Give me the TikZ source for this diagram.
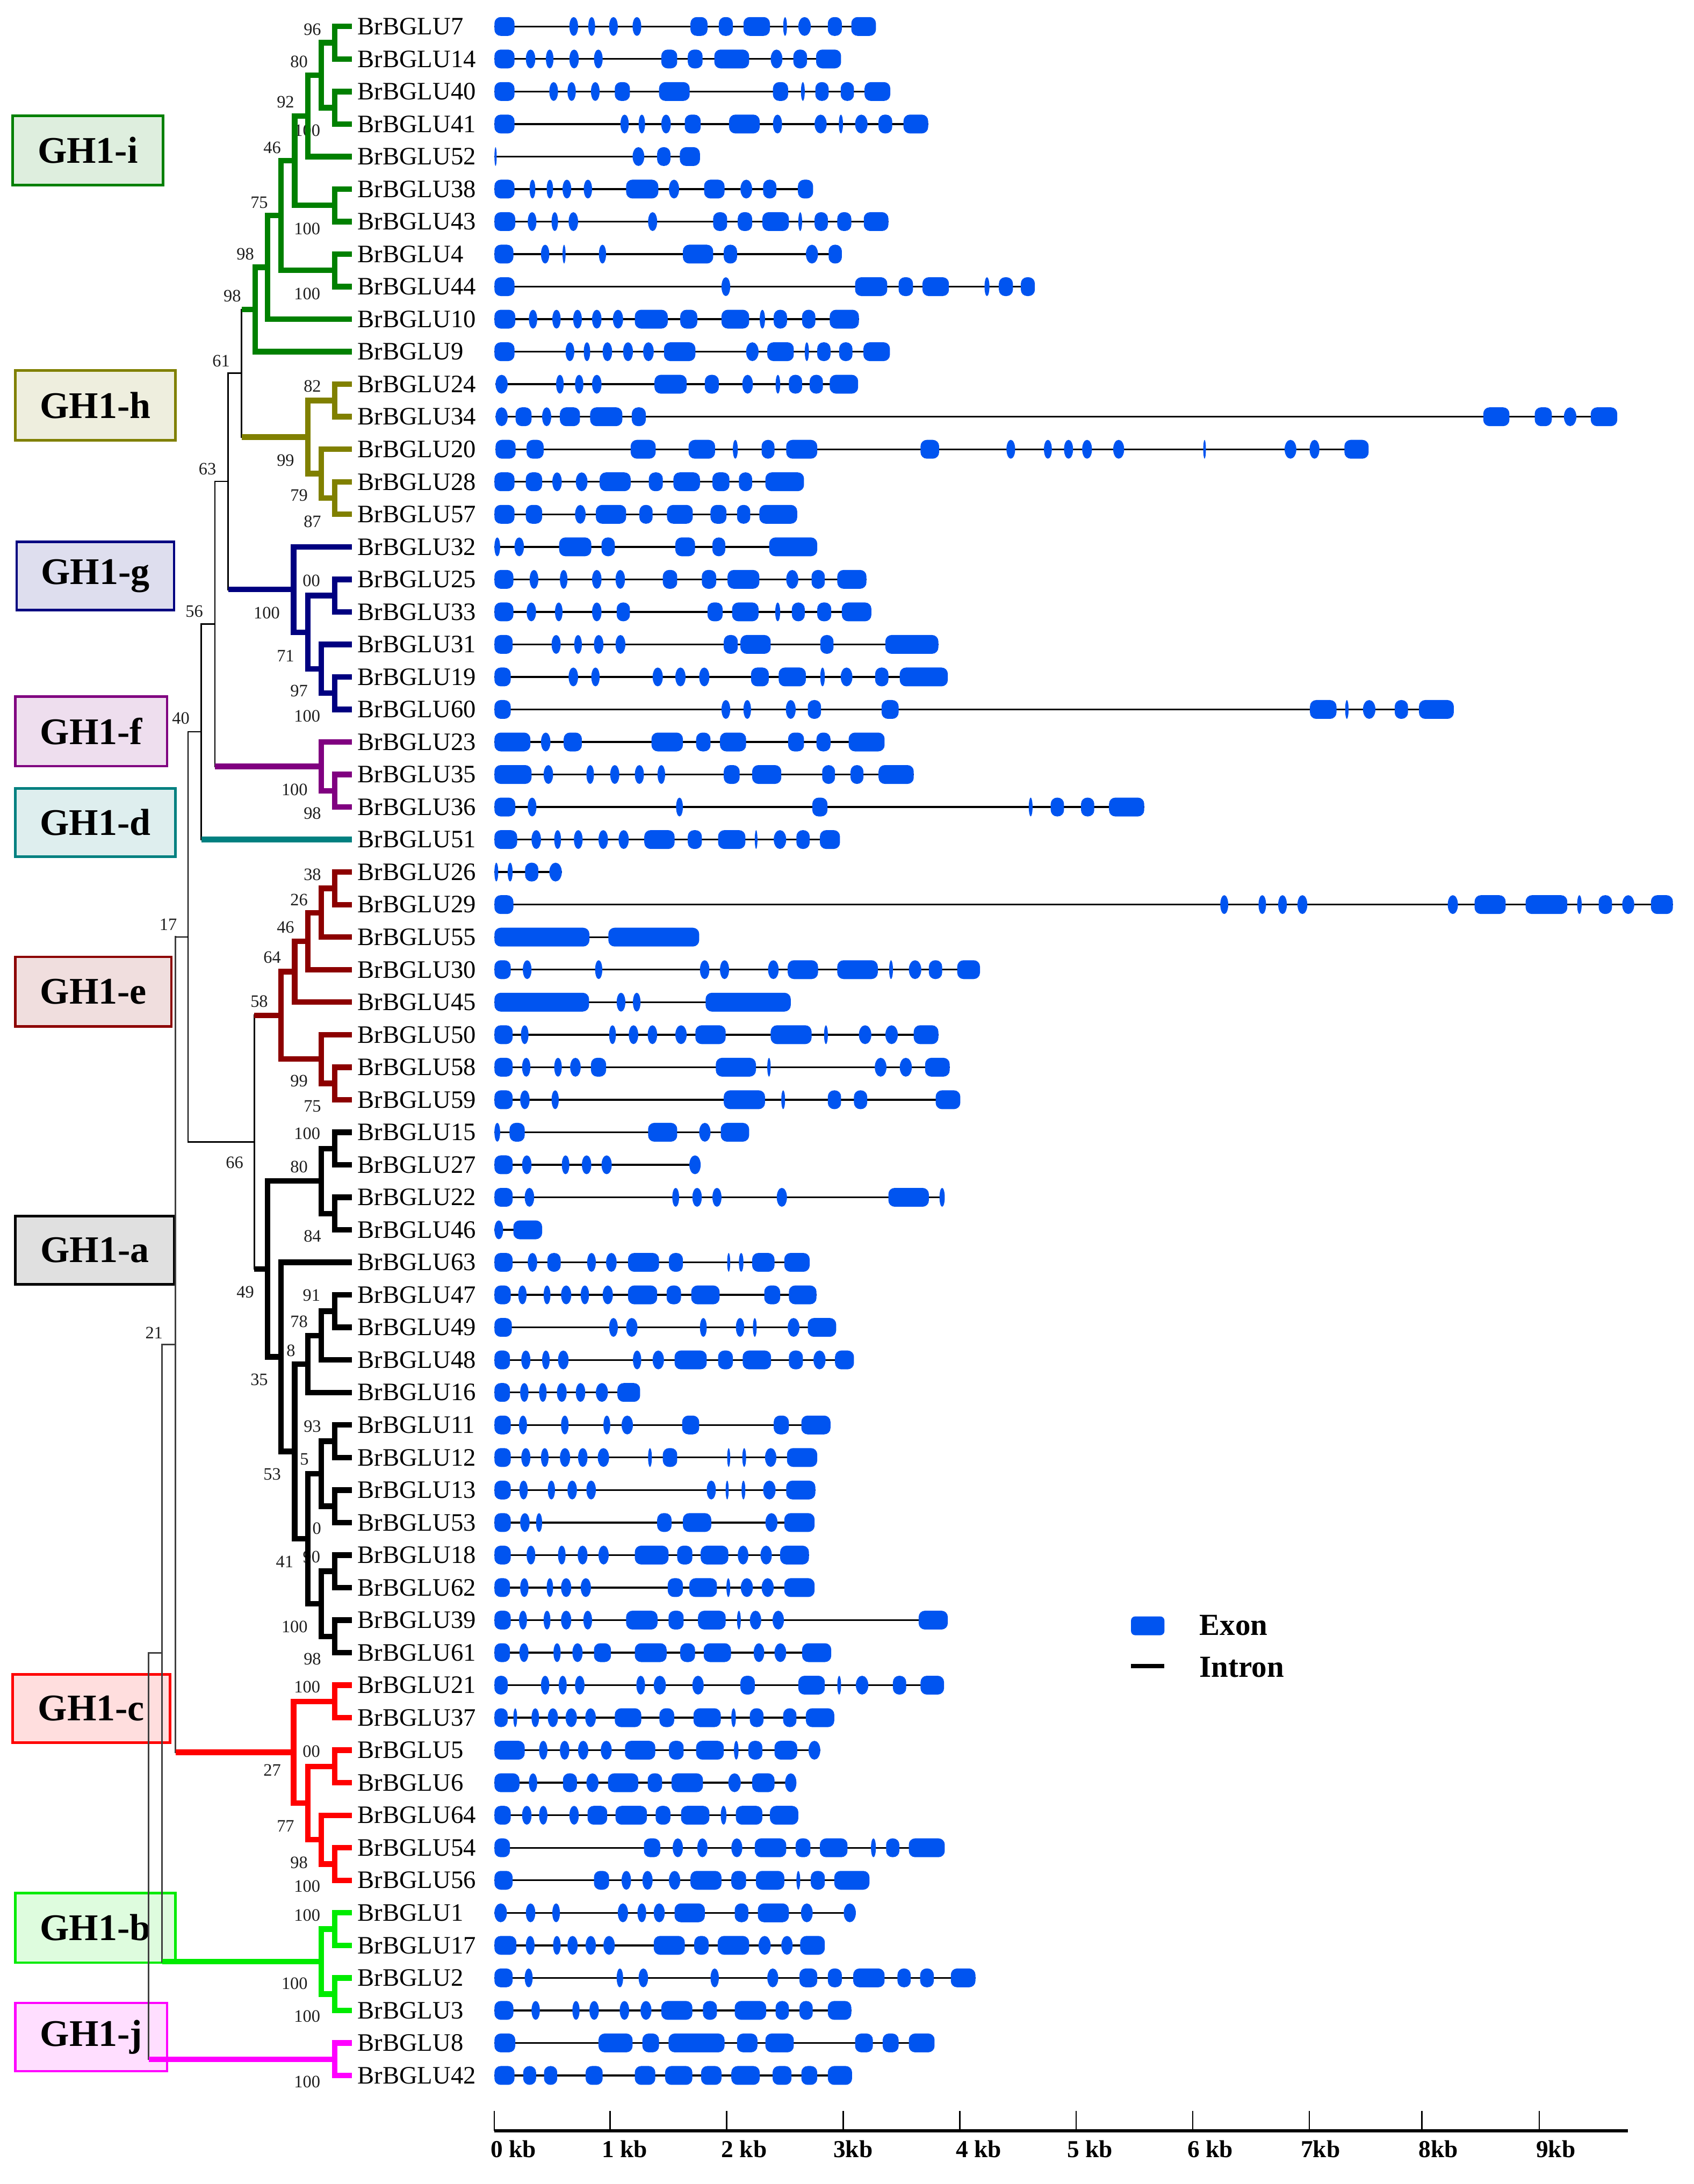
\documentclass[tikz,border=0pt]{standalone}
\usepackage{fontspec}
\setmainfont{Liberation Serif}
\definecolor{cI}{RGB}{0,128,0}
\definecolor{cH}{RGB}{128,128,0}
\definecolor{cG}{RGB}{0,0,128}
\definecolor{cF}{RGB}{128,0,128}
\definecolor{cD}{RGB}{0,128,128}
\definecolor{cE}{RGB}{140,0,0}
\definecolor{cA}{RGB}{0,0,0}
\definecolor{cC}{RGB}{255,0,0}
\definecolor{cB}{RGB}{0,235,0}
\definecolor{cJ}{RGB}{255,0,255}
\definecolor{exblue}{RGB}{0,84,240}
\definecolor{bstxt}{RGB}{30,30,30}
\newcommand\ry[1]{19+23.35*#1}
\tikzset{
 bI/.style={draw=cI,line width=4pt},
 bH/.style={draw=cH,line width=4pt},
 bG/.style={draw=cG,line width=4pt},
 bF/.style={draw=cF,line width=4pt},
 bD/.style={draw=cD,line width=4pt},
 bE/.style={draw=cE,line width=4pt},
 bA/.style={draw=cA,line width=4pt},
 bC/.style={draw=cC,line width=4pt},
 bB/.style={draw=cB,line width=4pt},
 bJ/.style={draw=cJ,line width=4pt},
 bk/.style={draw=black,line width=1.1pt},
 bq/.style={draw=black!75,line width=1.3pt},
 gl/.style={anchor=west,inner sep=0pt,font=\fontsize{18}{20}\selectfont},
 bs/.style={inner sep=0pt,text=bstxt,font=\fontsize{12.5}{13}\selectfont},
 ghbox/.style={draw=#1,fill=#1!13,line width=1.8pt,inner sep=0pt,minimum height=50pt,
   font=\fontsize{27}{30}\selectfont\bfseries},
 intron/.style={draw=black,line width=1.3pt},
 exonc/.style={fill=exblue},
}
\newcommand\nd[6]{%
 \draw[#1,line cap=rect] (#2 |- #4) -- (#2 |- #6);
 \draw[#3] (#2 |- #4) -- (#4);
 \draw[#5] (#2 |- #6) -- (#6);
}
\newcommand\exon[3]{%
 \pgfmathsetmacro\xa{349+0.2717*#2}%
 \pgfmathsetmacro\xb{349+0.2717*#3}%
 \pgfmathsetmacro\yc{19+23.35*#1}%
 \pgfmathsetmacro\ew{\xb-\xa}%
 \ifdim\ew pt<9pt
   \pgfmathsetmacro\xm{(\xa+\xb)/2}%
   \pgfmathsetmacro\rx{\ew/2}%
   \fill[exonc] (\xm,\yc) ellipse [x radius=\rx pt, y radius=6.75pt];
 \else
   \fill[exonc,rounded corners=4.5pt] (\xa,\yc-6.75) rectangle (\xb,\yc+6.75);
 \fi
}
\newcommand\gene[2]{%
 \def\gfirst{}%
 \foreach \a/\b in {#2}{\ifx\gfirst\empty\xdef\gfirst{\a}\fi\xdef\glast{\b}}%
 \draw[intron] ({349+0.2717*\gfirst},{\ry{#1}}) -- ({349+0.2717*\glast},{\ry{#1}});
 \foreach \a/\b in {#2}{\exon{#1}{\a}{\b}}%
}
\begin{document}
\begin{tikzpicture}[x=1pt,y=-1pt]
\useasboundingbox[fill=white] (0,0) rectangle (1216,1568);

% ---------- clade boxes ----------
\node[ghbox=cI,minimum width=108pt] (ghi) at (63,108) {GH1-i};
\node[ghbox=cH,minimum width=115pt] (ghh) at (68.5,291) {GH1-h};
\node[ghbox=cG,minimum width=113pt,minimum height=49pt] (ghg) at (68.5,413.5) {GH1-g};
\node[ghbox=cF,minimum width=109pt] (ghf) at (65.5,525) {GH1-f};
\node[ghbox=cD,minimum width=115pt,minimum height=49pt] (ghd) at (68.5,590.5) {GH1-d};
\node[ghbox=cE,minimum width=112pt] (ghe) at (67,712) {GH1-e};
\node[draw=black,fill=black!12,line width=1.8pt,inner sep=0pt,minimum height=49pt,minimum width=114pt,
  font=\fontsize{27}{30}\selectfont\bfseries] (gha) at (68,897.5) {GH1-a};
\node[ghbox=cC,minimum width=113pt,minimum height=49pt] (ghc) at (65.5,1226.5) {GH1-c};
\node[ghbox=cB,minimum width=115pt] (ghb) at (68.5,1384) {GH1-b};
\node[ghbox=cJ,minimum width=109pt,minimum height=49pt] (ghj) at (65.5,1462.5) {GH1-j};

% ---------- tips and gene names ----------
\foreach \n [count=\i from 0] in {7,14,40,41,52,38,43,4,44,10,9,24,34,20,28,57,32,25,33,31,19,60,23,35,36,51,26,29,55,30,45,50,58,59,15,27,22,46,63,47,49,48,16,11,12,13,53,18,62,39,61,21,37,5,6,64,54,56,1,17,2,3,8,42}{
 \coordinate (t\n) at (252.6,{\ry{\i}});
 \node[gl] (l\n) at (256.5,{\ry{\i}}) {BrBGLU\n};
}

% ---------- bootstrap values ----------
\foreach \x/\r/\t [count=\i] in {224.3/0.09/96, 214.7/1.09/80, 205/2.32/92, 220.5/3.2/100, 195.4/3.72/46, 186.1/5.41/75, 220.5/6.22/100, 176.1/7.0/98, 220.5/8.22/100, 166.8/8.29/98, 158.8/10.28/61, 224.3/11.06/82, 205/13.35/99, 214.7/14.42/79, 224.3/15.23/87, 148.9/13.61/63, 223.6/17.04/00, 191.5/18.03/100, 139.5/17.99/56, 205/19.36/71, 214.7/20.43/97, 220.5/21.2/100, 129.8/21.27/40, 211.5/23.46/100, 224.3/24.19/98, 224.3/26.07/38, 214.7/26.85/26, 205/27.69/46, 195.4/28.62/64, 186.1/29.98/58, 120.8/27.62/17, 214.7/32.42/99, 224.3/33.2/75, 220.5/34.04/100, 214.7/35.07/80, 224.3/37.2/84, 168.4/34.93/66, 176.1/38.91/49, 223.7/39.02/91, 214.7/39.83/78, 208.9/40.72/8, 186.1/41.6/35, 110.6/40.16/21, 224.3/43.05/93, 218.5/44.06/5, 195.4/44.52/53, 227.5/46.18/0, 223.7/47.05/90, 204.4/47.2/41, 211.5/49.2/100, 224.3/50.2/98, 220.5/51.05/100, 223.6/53.04/00, 195.4/53.62/27, 205/55.34/77, 214.7/56.46/98, 220.5/57.19/100, 220.5/58.08/100, 211.5/60.17/100, 220.5/61.18/100, 220.5/63.19/100}{
 \node[bs] (bs\i) at (\x,{\ry{\r}}) {\t};
}

% ---------- internal nodes ----------
\coordinate (i1) at (240.4,{\ry{0.5}});
\coordinate (i2) at (240.4,{\ry{2.5}});
\coordinate (i3) at (230.7,{\ry{1.5}});
\coordinate (i4) at (221,{\ry{2.75}});
\coordinate (i5) at (240.4,{\ry{5.5}});
\coordinate (i6) at (211.5,{\ry{4.125}});
\coordinate (i7) at (240.4,{\ry{7.5}});
\coordinate (i8) at (201.8,{\ry{5.8125}});
\coordinate (i9) at (192.2,{\ry{7.406}});
\coordinate (i10) at (183.2,{\ry{8.703}});
\coordinate (h1) at (240.4,{\ry{11.5}});
\coordinate (h2) at (240.4,{\ry{14.5}});
\coordinate (h3) at (230.7,{\ry{13.75}});
\coordinate (h4) at (221,{\ry{12.625}});
\coordinate (k61) at (173.5,{\ry{10.664}});
\coordinate (g1) at (240.4,{\ry{17.5}});
\coordinate (g2) at (240.4,{\ry{20.5}});
\coordinate (g3) at (230.7,{\ry{19.75}});
\coordinate (g4) at (221,{\ry{18.625}});
\coordinate (g5) at (210.8,{\ry{17.3125}});
\coordinate (k63) at (163.9,{\ry{13.988}});
\coordinate (f1) at (240.4,{\ry{23.5}});
\coordinate (f2) at (230.7,{\ry{22.75}});
\coordinate (k56) at (154.3,{\ry{18.369}});
\coordinate (k40) at (144.6,{\ry{21.685}});
\coordinate (e1) at (240.4,{\ry{26.5}});
\coordinate (e2) at (230.7,{\ry{27.25}});
\coordinate (e3) at (221,{\ry{28.125}});
\coordinate (e4) at (211.5,{\ry{29.0625}});
\coordinate (e5) at (240.4,{\ry{32.5}});
\coordinate (e6) at (230.7,{\ry{31.75}});
\coordinate (e7) at (201.8,{\ry{30.406}});
\coordinate (a1) at (240.4,{\ry{34.5}});
\coordinate (a2) at (240.4,{\ry{36.5}});
\coordinate (a3) at (230.7,{\ry{35.5}});
\coordinate (a4) at (240.4,{\ry{39.5}});
\coordinate (a5) at (230.7,{\ry{40.25}});
\coordinate (a6) at (221,{\ry{41.125}});
\coordinate (a7) at (240.4,{\ry{43.5}});
\coordinate (a8) at (240.4,{\ry{45.5}});
\coordinate (a9) at (230.7,{\ry{44.5}});
\coordinate (a10) at (240.4,{\ry{47.5}});
\coordinate (a11) at (240.4,{\ry{49.5}});
\coordinate (a12) at (230.7,{\ry{48.5}});
\coordinate (a13) at (221,{\ry{46.5}});
\coordinate (a14) at (211.5,{\ry{43.8125}});
\coordinate (a15) at (201.8,{\ry{40.906}});
\coordinate (a16) at (192.2,{\ry{38.203}});
\coordinate (k66) at (182.5,{\ry{34.305}});
\coordinate (k17) at (135,{\ry{27.995}});
\coordinate (c1) at (240.4,{\ry{51.5}});
\coordinate (c2) at (240.4,{\ry{53.5}});
\coordinate (c3) at (240.4,{\ry{56.5}});
\coordinate (c4) at (230.7,{\ry{55.75}});
\coordinate (c5) at (221,{\ry{54.625}});
\coordinate (c6) at (210.8,{\ry{53.0625}});
\coordinate (k21) at (126,{\ry{40.53}});
\coordinate (b1) at (240.4,{\ry{58.5}});
\coordinate (b2) at (240.4,{\ry{60.5}});
\coordinate (b3) at (230.7,{\ry{59.5}});
\coordinate (kx) at (116.3,{\ry{50.01}});
\coordinate (j1) at (240.4,{\ry{62.5}});
\coordinate (kr) at (106.7,{\ry{56.26}});

% ---------- backbone ----------
\nd{bq}{kr}{bq}{kx}{bJ}{j1}
\nd{bq}{kx}{bq}{k21}{bB}{b3}
\nd{bq}{k21}{bk}{k17}{bC}{c6}
\nd{bk}{k17}{bk}{k40}{bk}{k66}
\nd{bk}{k66}{bE}{e7}{bA}{a16}
\nd{bk}{k40}{bk}{k56}{bD}{t51}
\nd{bk}{k56}{bk}{k63}{bF}{f2}
\nd{bk}{k63}{bk}{k61}{bG}{g5}
\nd{bk}{k61}{bI}{i10}{bH}{h4}
% GH1-i
\nd{bI}{i10}{bI}{i9}{bI}{t9}
\nd{bI}{i9}{bI}{i8}{bI}{t10}
\nd{bI}{i8}{bI}{i6}{bI}{i7}
\nd{bI}{i7}{bI}{t4}{bI}{t44}
\nd{bI}{i6}{bI}{i4}{bI}{i5}
\nd{bI}{i5}{bI}{t38}{bI}{t43}
\nd{bI}{i4}{bI}{i3}{bI}{t52}
\nd{bI}{i3}{bI}{i1}{bI}{i2}
\nd{bI}{i1}{bI}{t7}{bI}{t14}
\nd{bI}{i2}{bI}{t40}{bI}{t41}
% GH1-h
\nd{bH}{h4}{bH}{h1}{bH}{h3}
\nd{bH}{h1}{bH}{t24}{bH}{t34}
\nd{bH}{h3}{bH}{t20}{bH}{h2}
\nd{bH}{h2}{bH}{t28}{bH}{t57}
% GH1-g
\nd{bG}{g5}{bG}{t32}{bG}{g4}
\nd{bG}{g4}{bG}{g1}{bG}{g3}
\nd{bG}{g1}{bG}{t25}{bG}{t33}
\nd{bG}{g3}{bG}{t31}{bG}{g2}
\nd{bG}{g2}{bG}{t19}{bG}{t60}
% GH1-f
\nd{bF}{f2}{bF}{t23}{bF}{f1}
\nd{bF}{f1}{bF}{t35}{bF}{t36}
% GH1-e
\nd{bE}{e7}{bE}{e4}{bE}{e6}
\nd{bE}{e4}{bE}{e3}{bE}{t45}
\nd{bE}{e3}{bE}{e2}{bE}{t30}
\nd{bE}{e2}{bE}{e1}{bE}{t55}
\nd{bE}{e1}{bE}{t26}{bE}{t29}
\nd{bE}{e6}{bE}{t50}{bE}{e5}
\nd{bE}{e5}{bE}{t58}{bE}{t59}
% GH1-a
\nd{bA}{a16}{bA}{a3}{bA}{a15}
\nd{bA}{a3}{bA}{a1}{bA}{a2}
\nd{bA}{a1}{bA}{t15}{bA}{t27}
\nd{bA}{a2}{bA}{t22}{bA}{t46}
\nd{bA}{a15}{bA}{t63}{bA}{a14}
\nd{bA}{a14}{bA}{a6}{bA}{a13}
\nd{bA}{a6}{bA}{a5}{bA}{t16}
\nd{bA}{a5}{bA}{a4}{bA}{t48}
\nd{bA}{a4}{bA}{t47}{bA}{t49}
\nd{bA}{a13}{bA}{a9}{bA}{a12}
\nd{bA}{a9}{bA}{a7}{bA}{a8}
\nd{bA}{a7}{bA}{t11}{bA}{t12}
\nd{bA}{a8}{bA}{t13}{bA}{t53}
\nd{bA}{a12}{bA}{a10}{bA}{a11}
\nd{bA}{a10}{bA}{t18}{bA}{t62}
\nd{bA}{a11}{bA}{t39}{bA}{t61}
% GH1-c
\nd{bC}{c6}{bC}{c1}{bC}{c5}
\nd{bC}{c1}{bC}{t21}{bC}{t37}
\nd{bC}{c5}{bC}{c2}{bC}{c4}
\nd{bC}{c2}{bC}{t5}{bC}{t6}
\nd{bC}{c4}{bC}{t64}{bC}{c3}
\nd{bC}{c3}{bC}{t54}{bC}{t56}
% GH1-b
\nd{bB}{b3}{bB}{b1}{bB}{b2}
\nd{bB}{b1}{bB}{t1}{bB}{t17}
\nd{bB}{b2}{bB}{t2}{bB}{t3}
% GH1-j
\nd{bJ}{j1}{bJ}{t8}{bJ}{t42}

% ---------- gene structures ----------
\gene{0}{22/75, 220/243, 270/288, 325/348, 387/410, 540/585, 615/652, 680/750, 785/795, 825/858, 903/940, 965/1030}
\gene{1}{22/75, 105/130, 158/178, 220/245, 285/308, 463/505, 533/572, 603/695, 752/783, 812/848, 872/938}
\gene{2}{22/75, 167/190, 215/237, 277/300, 340/380, 457/538, 758/798, 832/842, 870/905, 937/972, 1000/1068}
\gene{3}{22/75, 355/377, 403/420, 463/488, 525/567, 642/723, 758/782, 868/900, 932/943, 975/1008, 1037/1073, 1103/1168}
\gene{4}{22/28, 387/418, 452/487, 512/565}
\gene{5}{22/75, 115/130, 160/177, 202/225, 258/280, 370/455, 483/510, 576/630, 672/703, 732/767, 824/864}
\gene{6}{22/77, 110/133, 173/190, 218/243, 428/452, 600/637, 665/703, 730/800, 825/835, 868/903, 928/965, 998/1063}
\gene{7}{22/72, 145/167, 202/210, 298/317, 520/600, 628/663, 845/877, 905/940}
\gene{8}{22/75, 622/645, 975/1060, 1090/1128, 1153/1223, 1317/1330, 1355/1392, 1413/1450}
\gene{9}{22/77, 113/135, 175/197, 230/253, 280/305, 335/362, 393/480, 513/558, 622/695, 723/737, 760/795, 835/870, 908/985}
\gene{10}{22/75, 210/233, 258/275, 308/333, 362/388, 415/443, 470/553, 687/720, 743/813, 842/853, 875/910, 933/968, 997/1067}
\gene{11}{25/57, 185/205, 235/257, 280/305, 445/530, 578/615, 677/705, 765/777, 800/835, 855/890, 908/983}
\gene{12}{25/57, 78/120, 148/172, 195/248, 275/360, 385/422, 2635/2704, 2771/2816, 2848/2881, 2919/2989}
\gene{13}{25/78, 107/152, 382/448, 535/605, 652/665, 728/762, 793/875, 1148/1197, 1375/1398, 1474/1495, 1527/1551, 1575/1601, 1657/1686, 1895/1902, 2110/2141, 2176/2202, 2268/2332}
\gene{14}{22/75, 105/148, 175/200, 237/268, 300/382, 430/467, 495/565, 598/643, 668/703, 738/840}
\gene{15}{22/75, 105/148, 235/263, 290/370, 405/440, 478/546, 593/635, 663/698, 722/822}
\gene{16}{22/37, 75/100, 193/278, 305/340, 500/552, 598/632, 748/875}
\gene{17}{22/72, 115/138, 195/215, 280/305, 342/367, 467/505, 570/608, 638/722, 793/825, 860/895, 928/1005}
\gene{18}{22/72, 107/132, 182/202, 280/305, 345/380, 585/625, 650/720, 764/777, 808/842, 875/912, 940/1018}
\gene{19}{22/70, 173/197, 233/253, 285/310, 342/368, 628/665, 672/752, 883/918, 1055/1195}
\gene{20}{22/65, 218/243, 278/300, 440/467, 500/527, 563/590, 700/747, 773/845, 883/895, 937/968, 1028/1063, 1093/1220}
\gene{21}{22/65, 622/645, 680/700, 792/818, 850/885, 1045/1090, 2177/2247, 2270/2279, 2317/2350, 2401/2436, 2465/2557}
\gene{22}{22/117, 145/170, 205/253, 437/520, 555/593, 618/687, 798/840, 873/910, 958/1053}
\gene{23}{22/120, 152/177, 265/285, 328/352, 393/417, 453/473, 628/670, 703/780, 888/922, 963/997, 1037/1130}
\gene{24}{22/77, 110/133, 502/520, 862/902, 1434/1444, 1492/1527, 1572/1607, 1646/1739}
\gene{25}{22/82, 120/145, 180/198, 232/255, 297/322, 350/377, 418/498, 533/570, 613/685, 710/717, 760/793, 820/855, 882/935}
\gene{26}{22/32, 57/70, 103/138, 167/200}
\gene{27}{22/72, 1940/1961, 2041/2061, 2093/2116, 2144/2170, 2541/2568, 2612/2694, 2747/2857, 2883/2895, 2940/2975, 3002/3034, 3078/3136}
\gene{28}{22/273, 323/563}
\gene{29}{22/65, 97/120, 288/307, 565/590, 618/642, 745/773, 797/877, 928/1035, 1065/1075, 1117/1150, 1170/1205, 1245/1305}
\gene{30}{22/272, 345/368, 388/408, 580/805}
\gene{31}{22/70, 92/112, 325/343, 377/402, 427/452, 500/530, 553/633, 752/860, 893/903, 985/1018, 1055/1088, 1130/1195}
\gene{32}{22/70, 95/117, 180/200, 222/250, 277/317, 607/713, 743/752, 1027/1058, 1093/1125, 1160/1225}
\gene{33}{22/70, 90/115, 173/192, 628/737, 780/790, 903/938, 972/1007, 1188/1253}
\gene{34}{22/37, 62/102, 428/505, 563/593, 620/695}
\gene{35}{22/70, 95/120, 200/220, 253/278, 305/332, 537/567}
\gene{36}{22/70, 102/127, 492/510, 545/570, 598/622, 768/795, 1063/1170, 1198/1212}
\gene{37}{22/45, 72/148}
\gene{38}{22/70, 110/135, 162/197, 267/290, 317/345, 375/457, 483/520, 637/645, 668/680, 703/762, 788/855}
\gene{39}{22/65, 85/107, 152/170, 198/225, 250/272, 308/335, 375/452, 477/515, 542/617, 735/777, 800/873}
\gene{40}{22/68, 325/348, 370/400, 565/583, 660/682, 705/715, 797/828, 850/925}
\gene{41}{22/63, 93/117, 148/168, 190/218, 388/410, 440/470, 498/583, 613/652, 678/753, 800/837, 865/897, 922/972}
\gene{42}{22/63, 90/112, 140/160, 187/213, 237/262, 290/322, 347/407}
\gene{43}{22/65, 87/108, 198/218, 310/328, 358/388, 518/563, 760/800, 833/910}
\gene{44}{22/65, 93/117, 145/165, 195/222, 243/268, 295/325, 428/438, 467/505, 637/645, 677/687, 737/767, 795/875}
\gene{45}{22/65, 88/110, 163/182, 215/240, 265/290, 583/607, 633/641, 675/685, 732/765, 793/870}
\gene{46}{22/65, 90/115, 132/148, 452/490, 520/595, 738/770, 788/868}
\gene{47}{22/65, 107/130, 190/210, 242/268, 297/324, 393/482, 505/545, 567/640, 665/693, 725/755, 777/853}
\gene{48}{22/63, 90/112, 160/177, 198/225, 250/277, 480/520, 537/610, 635/645, 673/705, 728/760, 788/868}
\gene{49}{22/65, 87/108, 152/170, 198/225, 257/280, 370/453, 482/522, 560/633, 663/673, 697/727, 757/787, 1143/1220}
\gene{50}{22/63, 88/112, 178/197, 228/255, 285/330, 393/477, 513/552, 575/647, 707/735, 762/793, 835/912}
\gene{51}{22/57, 145/167, 192/213, 235/260, 397/420, 443/475, 545/575, 672/710, 825/895, 928/938, 977/1010, 1075/1110, 1148/1210}
\gene{52}{22/57, 72/82, 120/140, 163/190, 210/240, 262/290, 340/410, 458/497, 548/620, 648/660, 697/733, 785/820, 845/920}
\gene{53}{22/102, 140/162, 195/220, 243/270, 303/332, 367/447, 483/522, 555/628, 655/667, 693/730, 762/822, 852/883}
\gene{54}{22/88, 113/135, 203/240, 265/297, 322/402, 427/465, 490/573, 640/673, 703/762, 790/820}
\gene{55}{22/65, 95/120, 140/162, 220/245, 268/320, 342/425, 448/487, 515/590, 620/635, 660/730, 750/825}
\gene{56}{22/63, 417/460, 493/520, 558/585, 648/677, 710/793, 818/857, 882/955, 1017/1030, 1057/1092, 1117/1212}
\gene{57}{22/70, 285/325, 358/383, 413/440, 483/513, 540/622, 648/687, 713/788, 820/830, 858/895, 920/1013}
\gene{58}{22/55, 105/130, 175/195, 348/375, 400/423, 443/472, 498/578, 657/693, 718/800, 832/863, 945/977}
\gene{59}{22/80, 105/128, 177/197, 215/242, 263/290, 310/340, 443/525, 550/588, 612/695, 720/752, 780/810, 830/895}
\gene{60}{22/70, 102/123, 345/362, 403/428, 593/615, 743/772, 828/875, 903/940, 970/1053, 1087/1122, 1147/1183, 1228/1293}
\gene{61}{22/72, 120/142, 228/247, 273/298, 353/378, 408/437, 463/545, 573/610, 657/740, 765/800, 828/863, 903/965}
\gene{62}{22/77, 297/387, 413/457, 482/630, 663/717, 738/813, 975/1022, 1048/1090, 1117/1185}
\gene{63}{22/75, 98/132, 153/188, 263/308, 393/447, 473/545, 568/622, 648/723, 757/807, 833/875, 903/967}

% ---------- legend ----------
\fill[exonc,rounded corners=3pt] (812,1160.5) rectangle (836,1174);
\node[anchor=west,inner sep=0pt,font=\fontsize{22}{24}\selectfont\bfseries] (lgex) at (861,1167) {Exon};
\draw[black,line width=3pt] (812,1196) -- (836,1196);
\node[anchor=west,inner sep=0pt,font=\fontsize{22}{24}\selectfont\bfseries] (lgin) at (861,1197) {Intron};

% ---------- axis ----------
\coordinate (ax0) at (354.8,1529.8);
\coordinate (ax1) at (1168.9,1529.8);
\draw[black,line width=2pt] (ax0) -- (ax1);
\foreach \x/\lx/\t [count=\i] in {354.8/352.1/0 kb, 437.9/431.9/1 kb, 521.6/517.8/2 kb, 605.3/598.1/3kb, 689.0/686.1/4 kb, 772.6/765.9/5 kb, 856.3/852.3/6 kb, 940.0/933.7/7kb, 1020.9/1018.5/8kb, 1105.1/1102.7/9kb}{
 \coordinate (tk\i) at (\x,1515.6);
 \draw[black,line width=1pt] (tk\i) -- (tk\i |- ax0);
 \node[anchor=west,inner sep=0pt,font=\fontsize{17.5}{19}\selectfont\bfseries] (tl\i) at (\lx,1543) {\t};
}
\end{tikzpicture}
\end{document}
